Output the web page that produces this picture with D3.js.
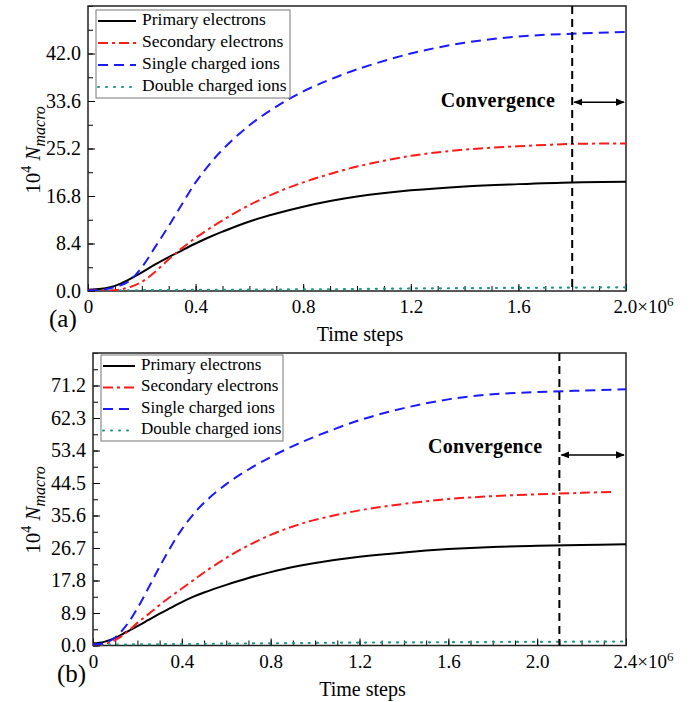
<!DOCTYPE html>
<html>
<head>
<meta charset="utf-8">
<script src="https://cdn.jsdelivr.net/npm/d3@7"></script>
<style>
  body { margin: 0; background: #fff; }
  text { font-family: "Liberation Serif", "Times New Roman", serif; fill: #000; }
</style>
</head>
<body>
<script>
// ---- data: time in 10^6 steps, values in 10^4 macro particles ----
const SERIES_NAMES = ["Primary electrons", "Secondary electrons", "Single charged ions", "Double charged ions"];

// panel (a)
const TIME_A = [0, 0.05, 0.1, 0.15, 0.2, 0.25, 0.3, 0.35, 0.4, 0.45, 0.5, 0.6, 0.7, 0.8, 0.9, 1.0, 1.2, 1.4, 1.6, 1.8, 2.0];
const PRIMARY_A   = [0.2, 0.4, 0.9, 1.95, 3.3, 4.7, 6.0, 7.2, 8.4, 9.5, 10.5, 12.3, 13.7, 14.9, 15.9, 16.7, 17.8, 18.5, 18.9, 19.2, 19.3];
const SECONDARY_A = [0.1, 0.1, 0.15, 0.6, 1.6, 3.4, 5.6, 7.6, 9.4, 11.0, 12.5, 15.2, 17.4, 19.2, 20.7, 22.0, 23.9, 25.0, 25.6, 26.0, 26.1];
const SINGLE_A    = [0.1, 0.2, 0.7, 1.65, 4.2, 7.8, 11.5, 15.4, 19.2, 22.3, 25.0, 29.3, 32.6, 35.3, 37.4, 39.2, 42.0, 43.9, 45.0, 45.5, 45.8];
const DOUBLE_A    = [0.1, 0.1, 0.1, 0.1, 0.15, 0.15, 0.15, 0.2, 0.2, 0.2, 0.2, 0.25, 0.25, 0.3, 0.3, 0.35, 0.45, 0.5, 0.55, 0.6, 0.65];
const TICKS_A = [0, 8.4, 16.8, 25.2, 33.6, 42.0];

// panel (b)
const TIME_B = [0, 0.05, 0.1, 0.15, 0.2, 0.25, 0.3, 0.35, 0.4, 0.45, 0.5, 0.6, 0.7, 0.8, 0.9, 1.0, 1.2, 1.4, 1.6, 1.8, 2.0, 2.2, 2.4];
const PRIMARY_B   = [0.6, 1.0, 2.1, 3.7, 5.3, 7.0, 8.7, 10.3, 11.9, 13.3, 14.5, 16.6, 18.5, 20.1, 21.5, 22.6, 24.3, 25.5, 26.4, 27.0, 27.3, 27.5, 27.7];
const TIME_B_SEC = [0, 0.05, 0.1, 0.15, 0.2, 0.25, 0.3, 0.35, 0.4, 0.45, 0.5, 0.6, 0.7, 0.8, 0.9, 1.0, 1.2, 1.4, 1.6, 1.8, 2.0, 2.2, 2.35];
const SECONDARY_B = [0.3, 0.4, 1.5, 3.5, 6.2, 8.6, 11.1, 13.4, 15.6, 17.8, 20.0, 24.0, 27.4, 30.3, 32.6, 34.4, 37.0, 38.8, 40.1, 40.9, 41.4, 41.8, 42.1];
const SINGLE_B    = [0.3, 0.6, 2.2, 5.5, 10.2, 15.8, 21.6, 27.0, 31.8, 35.8, 39.1, 44.2, 48.2, 51.6, 54.6, 57.2, 61.7, 65.0, 67.4, 68.8, 69.4, 69.8, 70.2];
const DOUBLE_B    = [0.2, 0.2, 0.25, 0.25, 0.3, 0.3, 0.35, 0.35, 0.4, 0.4, 0.45, 0.5, 0.55, 0.6, 0.65, 0.7, 0.8, 0.85, 0.9, 0.95, 1.0, 1.05, 1.1];
const TICKS_B = [0, 8.9, 17.8, 26.7, 35.6, 44.5, 53.4, 62.3, 71.2];

const STYLES = [
    { color: "#000000", dash: null },
    { color: "#ff1a1a", dash: "10,4,3,4" },
    { color: "#1a1aff", dash: "10,6" },
    { color: "#1a9a8a", dash: "1,7" }
];

const WIDTH = 693;
const HEIGHT = 702;

const svg = d3.select("body").append("svg")
    .attr("width", WIDTH)
    .attr("height", HEIGHT)
    .attr("viewBox", [0, 0, WIDTH, HEIGHT]);

function drawPanel(cfg) {
    const x = d3.scaleLinear().domain([0, cfg.xMax]).range([cfg.left, cfg.right]);
    const y = d3.scaleLinear().domain([0, cfg.yMax]).range([cfg.bottom, cfg.top]);
    const g = svg.append("g");

    // x axis: minor every 0.1, labels every 0.4
    const xMinor = d3.range(0, cfg.xMax + 1e-9, 0.1);
    g.append("g")
        .attr("transform", `translate(0,${cfg.bottom})`)
        .call(d3.axisBottom(x).tickValues(xMinor).tickSize(-5).tickFormat(""))
        .call(a => a.select(".domain").remove());
    const xMajor = d3.range(0, cfg.xMax + 1e-9, 0.4);
    const xAxis = g.append("g")
        .attr("transform", `translate(0,${cfg.bottom})`)
        .call(d3.axisBottom(x).tickValues(xMajor).tickSize(-7).tickPadding(9)
            .tickFormat(d => d === 0 ? "0" : d3.format(".1f")(d)))
        .call(a => a.select(".domain").remove());
    xAxis.selectAll("text")
        .style("font-size", "19px")
        .style("font-family", "'Liberation Serif', serif");
    // last label gets the ×10^6
    xAxis.selectAll(".tick text").filter(d => Math.abs(d - cfg.xMax) < 1e-9)
        .text(null)
        .attr("text-anchor", "start")
        .attr("dx", "-13")
        .call(t => {
            t.append("tspan").text(d3.format(".1f")(cfg.xMax) + "×10");
            t.append("tspan").text("6").attr("dy", "-7").style("font-size", "13px");
        });

    // y axis: major labelled, minor halfway
    const step = cfg.yTicks[1];
    const yMinor = d3.range(0, cfg.yMax + 1e-9, step / 2);
    g.append("g")
        .attr("transform", `translate(${cfg.left},0)`)
        .call(d3.axisLeft(y).tickValues(yMinor).tickSize(-5).tickFormat(""))
        .call(a => a.select(".domain").remove());
    g.append("g")
        .attr("transform", `translate(${cfg.left},0)`)
        .call(d3.axisLeft(y).tickValues(cfg.yTicks).tickSize(-7).tickPadding(7).tickFormat(d3.format(".1f")))
        .call(a => a.select(".domain").remove())
        .selectAll("text")
        .style("font-size", "20px")
        .style("font-family", "'Liberation Serif', serif");

    // frame
    g.append("rect")
        .attr("x", cfg.left)
        .attr("y", cfg.top)
        .attr("width", cfg.right - cfg.left)
        .attr("height", cfg.bottom - cfg.top)
        .style("fill", "none")
        .style("stroke", "#222")
        .style("stroke-width", 1.5);

    // clip for the curves
    const clipId = "clip" + cfg.tag;
    svg.append("clipPath").attr("id", clipId)
        .append("rect")
        .attr("x", cfg.left).attr("y", cfg.top - 2)
        .attr("width", cfg.right - cfg.left).attr("height", cfg.bottom - cfg.top + 2);

    const line = d3.line()
        .x(d => x(d[0]))
        .y(d => y(d[1]))
        .curve(d3.curveCatmullRom.alpha(0.5));

    // draw dotted first, then others
    [3, 0, 1, 2].forEach(function(i) {
        const s = cfg.series[i];
        const pts = s.t.map((t, k) => [t, s.v[k]]);
        g.append("path")
            .attr("clip-path", `url(#${clipId})`)
            .attr("d", line(pts))
            .style("fill", "none")
            .style("stroke", STYLES[i].color)
            .style("stroke-width", i === 3 ? 2.2 : 2)
            .style("stroke-linecap", i === 3 ? "round" : "butt")
            .style("stroke-dasharray", STYLES[i].dash);
    });

    // convergence marker
    g.append("line")
        .attr("x1", x(cfg.conv)).attr("x2", x(cfg.conv))
        .attr("y1", cfg.top).attr("y2", cfg.bottom)
        .style("stroke", "#000")
        .style("stroke-width", 2)
        .style("stroke-dasharray", "8,5");
    const ay = y(cfg.arrowY);
    g.append("line")
        .attr("x1", x(cfg.conv) + 2).attr("x2", cfg.right - 2)
        .attr("y1", ay).attr("y2", ay)
        .style("stroke", "#000")
        .style("stroke-width", 1.5)
        .attr("marker-start", "url(#arrowStart)")
        .attr("marker-end", "url(#arrowEnd)");
    g.append("text")
        .text("Convergence")
        .attr("x", x(cfg.conv) - 17)
        .attr("y", y(cfg.labelY))
        .attr("text-anchor", "end")
        .attr("dominant-baseline", "middle")
        .style("font-size", "20px")
        .style("font-weight", "bold")
        .style("letter-spacing", "0.3px");

    // legend
    const L = cfg.legend;
    g.append("rect")
        .attr("x", L.x).attr("y", L.y)
        .attr("width", L.w).attr("height", L.h)
        .style("fill", "#fff")
        .style("stroke", "#777")
        .style("stroke-width", 1);
    SERIES_NAMES.forEach(function(name, i) {
        const ry = L.y + L.row0 + i * L.rowH;
        g.append("path")
            .attr("d", `M ${L.x + 2} ${ry} L ${L.x + L.sample} ${ry}`)
            .style("fill", "none")
            .style("stroke", STYLES[i].color)
            .style("stroke-width", 2)
            .style("stroke-linecap", i === 3 ? "round" : "butt")
            .style("stroke-dasharray", STYLES[i].dash);
        g.append("text")
            .text(name)
            .attr("x", L.x + L.sample + 6)
            .attr("y", ry)
            .attr("dominant-baseline", "middle")
            .style("font-size", L.font);
    });

    // axis titles
    g.append("text")
        .text("Time steps")
        .attr("x", (cfg.left + cfg.right) / 2 + 3)
        .attr("y", cfg.bottom + 50)
        .attr("text-anchor", "middle")
        .style("font-size", "20px");
    const yl = g.append("text")
        .attr("transform", `translate(${cfg.ylabelX},${cfg.ylabelY}) rotate(-90)`)
        .attr("text-anchor", "middle")
        .style("font-size", "21px");
    yl.append("tspan").text("10");
    yl.append("tspan").text("4").attr("dy", -9).style("font-size", "14px");
    yl.append("tspan").text(" N").attr("dy", 9).style("font-style", "italic");
    yl.append("tspan").text("macro").attr("dy", 5).style("font-style", "italic").style("font-size", "16px");

    // panel tag
    g.append("text")
        .text(`(${cfg.tag})`)
        .attr("x", cfg.tagX)
        .attr("y", cfg.bottom + 36)
        .style("font-size", "25px");
}

// arrow markers
const defs = svg.append("defs");
defs.append("marker").attr("id", "arrowEnd")
    .attr("viewBox", "0 0 10 10").attr("refX", 9).attr("refY", 5)
    .attr("markerWidth", 6).attr("markerHeight", 6).attr("orient", "auto")
    .append("path").attr("d", "M0,1 L10,5 L0,9 z").style("fill", "#000");
defs.append("marker").attr("id", "arrowStart")
    .attr("viewBox", "0 0 10 10").attr("refX", 1).attr("refY", 5)
    .attr("markerWidth", 6).attr("markerHeight", 6).attr("orient", "auto")
    .append("path").attr("d", "M10,1 L0,5 L10,9 z").style("fill", "#000");

drawPanel({
    tag: "a",
    left: 88, right: 626, top: 6, bottom: 291,
    xMax: 2.0, yMax: 50.4, yTicks: TICKS_A,
    conv: 1.8, arrowY: 33.4, labelY: 33.4,
    series: [
        { t: TIME_A, v: PRIMARY_A },
        { t: TIME_A, v: SECONDARY_A },
        { t: TIME_A, v: SINGLE_A },
        { t: TIME_A, v: DOUBLE_A }
    ],
    legend: { x: 96, y: 10, w: 194, h: 88, row0: 11, rowH: 22, sample: 40, font: "17.5px" },
    ylabelX: 40, ylabelY: 150, tagX: 49
});

drawPanel({
    tag: "b",
    left: 93, right: 626, top: 353, bottom: 645.5,
    xMax: 2.4, yMax: 80.1, yTicks: TICKS_B,
    conv: 2.1, arrowY: 52.2, labelY: 54.0,
    series: [
        { t: TIME_B, v: PRIMARY_B },
        { t: TIME_B_SEC, v: SECONDARY_B },
        { t: TIME_B, v: SINGLE_B },
        { t: TIME_B, v: DOUBLE_B }
    ],
    legend: { x: 101, y: 355, w: 182, h: 86, row0: 11, rowH: 21.5, sample: 34, font: "17px" },
    ylabelX: 40, ylabelY: 510, tagX: 57
});
</script>
</body>
</html>
